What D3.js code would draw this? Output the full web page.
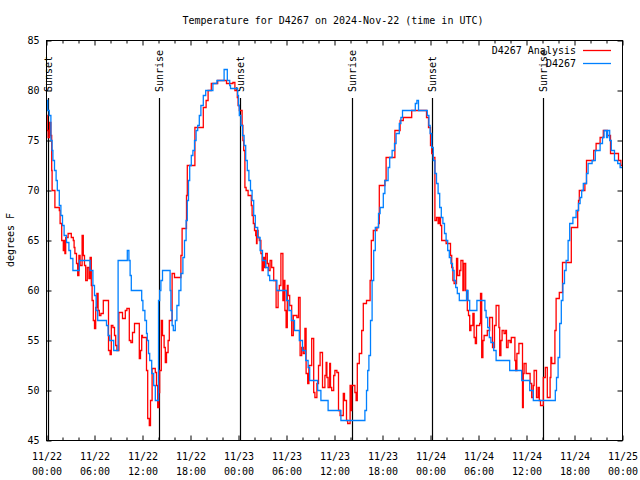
<!DOCTYPE html>
<html><head><meta charset="utf-8">
<script src="https://cdn.jsdelivr.net/npm/d3@7"></script>
<style>
body{margin:0;background:#fff;}
svg{display:block;}
text{font-family:"DejaVu Sans Mono","Liberation Mono",monospace;font-size:10px;fill:#000;}
</style></head><body>
<svg id="chart" width="640" height="480"></svg>
<script>
// ---- data (hours since 2024-11-22 00:00 UTC, temperature in °F) ----
const analysisHours = [0.00,0.08,0.2,0.4,0.55,0.65,0.7,1.05,1.6,1.7,1.9,2.1,2.2,2.3,2.4,2.7,3.1,3.35,3.45,3.55,3.75,3.9,4.05,4.2,4.45,4.6,4.75,4.9,5.1,5.3,5.45,5.6,5.7,5.85,6.0,6.15,6.3,6.45,6.6,6.8,7.1,7.75,7.95,8.1,8.3,8.5,8.65,8.8,9.05,9.5,9.85,10.05,10.35,10.55,10.75,11.0,11.6,11.75,11.9,12.0,12.5,12.65,12.85,13.0,13.2,13.6,13.75,13.9,14.05,14.15,14.35,14.5,14.7,14.85,15.0,15.2,15.35,15.7,16.0,16.8,16.95,17.5,17.6,18.55,19.6,19.95,20.2,20.6,21.4,22.5,23.3,23.55,23.85,23.95,24.1,24.45,24.55,24.65,24.8,24.95,25.2,25.6,25.7,25.85,26.0,26.15,26.25,26.32,26.45,26.6,26.8,26.95,27.1,27.25,27.4,27.6,27.75,27.95,28.15,28.4,28.55,28.7,28.95,29.1,29.3,29.55,29.65,29.8,29.95,30.1,30.2,30.4,30.65,30.85,31.3,31.5,31.7,31.9,32.1,32.3,32.45,32.65,32.8,33.15,33.4,33.55,33.8,34.0,34.2,34.5,34.8,34.95,35.05,35.2,35.4,35.5,35.65,35.9,36.05,36.3,36.5,36.7,37.1,37.25,37.5,37.65,37.95,38.0,38.15,38.55,38.7,38.85,39.1,39.4,39.6,40.0,40.45,40.6,40.85,41.3,41.5,41.6,42.3,42.45,43.55,44.2,44.6,45.65,47.5,47.75,48.0,48.15,48.35,48.55,48.75,48.95,49.1,49.25,49.4,49.95,50.5,50.65,50.8,50.95,51.25,51.4,51.65,51.8,52.05,52.2,52.4,52.6,52.75,52.9,53.05,53.3,53.45,53.6,53.75,54.15,54.25,54.4,54.55,54.7,55.1,55.4,55.75,56.0,56.2,56.55,56.65,56.8,56.95,57.2,57.4,57.5,57.7,57.95,58.1,58.55,58.65,58.8,59.05,59.5,59.6,59.7,59.95,60.45,60.65,60.85,60.95,61.25,61.45,61.6,61.75,62.1,62.35,62.6,62.95,63.05,63.15,63.55,63.7,64.1,64.5,65.6,66.4,66.5,66.6,67.3,67.5,68.4,68.7,69.2,69.6,70.1,70.5,71.5,71.8,72.0];
const analysisTemps = [77.5,76,75.3,76.8,75.5,72,70,68.3,68,66.7,65,64,65,63.7,65.3,65.7,65.3,65,64.3,63.7,62.7,61.5,63.5,62.5,65.5,63.5,62.5,61,62.3,61.2,63.3,60.5,59,57,56.2,58.3,59.7,58,57.5,57.7,59,54,53.6,56.5,56.3,55.5,54.5,54,57.8,57.2,58,58.2,55,54.8,55.8,56.7,53.2,54,55.5,55.3,52,47.2,46.5,49,52.2,51.8,50.5,48.3,49.8,52,57,55.5,54.3,52.8,53.8,55,57,61.7,61.3,63.5,66.2,69.5,72.5,76.3,78.3,79,80,80.7,81,80.7,80.8,80,79.3,78.5,78,76.5,75,74,70.3,70,69.5,68.5,67.5,66.7,66,65.5,64.7,66,65.3,65,63.7,62,63.3,62.3,63.7,62.7,62,63,62.3,61,61,58.3,60,60.5,63.7,59,61,58,56.3,60.5,59.5,58.5,55.5,57.5,57.3,59.3,53.5,54.3,53.7,56.2,51.7,50.7,52.5,55.2,49.8,49.3,50.7,52.5,53.8,50.3,51.5,52.8,51.3,50.3,52.7,50.3,50,51.5,52,51.8,48,47.5,49.7,49,47,46.7,50.5,48,50.5,49.8,49,52.7,53.7,56,58.7,59,61,65,66,66.3,66.7,70.5,71,73.3,76,77,77.3,78,77.3,76.3,74.5,73.7,73.3,67,67.3,66.7,67.3,66.5,65,64.7,63.5,62.3,61,60.7,63.2,61.5,62,63,60,62.7,60,58,57.5,56,56.5,57.7,55.3,54.7,56.5,56.7,59.7,53.3,55,55.5,56,57.3,54.3,56.5,58.5,56.3,53.5,55,56,55.7,56,54.3,55,54.8,55.3,53,52,53.7,54.7,48.3,51.7,52.7,51.7,50.7,49.3,50.5,52,49.3,50.3,49,48.5,51.3,52.3,49.3,51.3,53.3,52.7,56,59.2,59.8,62.8,66.3,68,69,70,70.7,73,74,74.7,75.3,76,75.5,73.7,73,72.5,72.5];

const obsHours = [0.0,0.15,0.35,0.55,0.7,0.8,1.0,1.2,1.35,1.6,1.8,2.0,2.2,2.5,2.8,3.0,3.3,4.1,5.45,5.8,6.0,6.2,6.4,7.5,7.7,7.9,8.4,8.95,10.1,10.3,10.45,10.6,11.9,12.05,12.3,12.5,12.6,12.75,12.9,13.15,13.4,13.6,14.0,14.15,14.3,14.5,15.45,15.55,15.7,15.85,16.1,16.3,16.55,16.8,17.05,17.25,17.45,17.6,17.75,17.9,18.1,18.3,18.5,18.7,18.9,19.1,19.3,19.6,19.9,20.8,21.3,22.2,22.6,22.9,23.0,23.9,24.0,24.1,24.3,24.5,24.7,24.9,25.1,25.3,25.5,25.7,25.9,26.1,26.4,26.7,27.0,27.4,27.7,27.9,28.8,30.0,30.3,30.6,31.0,31.6,32.0,32.4,32.7,32.9,33.9,34.3,35.2,36.8,39.8,40.0,40.15,40.3,40.5,40.7,40.9,41.1,41.5,41.7,42.1,42.3,42.7,42.9,43.2,43.5,43.7,44.1,44.3,44.5,46.1,46.3,46.5,47.6,47.8,47.95,48.15,48.35,48.55,48.75,48.95,49.15,49.35,49.55,49.75,49.95,50.15,50.35,50.55,50.75,50.95,51.15,51.35,51.6,52.5,52.7,52.9,53.8,54.8,54.95,55.15,55.35,55.55,55.9,56.2,57.9,59.4,60.4,60.85,63.6,63.75,63.95,64.15,64.35,64.55,64.75,64.95,65.2,65.4,65.8,66.2,66.5,66.7,66.9,67.1,67.5,67.7,68.2,68.6,69.2,69.5,69.7,70.0,70.15,70.4,70.6,71.0,71.4,71.7,72.0];
const obsTemps = [79,78,77.5,75,74,73,72,71,70,68.5,67.5,66.5,65.5,64.8,64,63.2,62,63,62,60.5,59.5,58,57,56.5,55.5,55,54,63,64,63,61.5,60,59,58,57,55.7,55,53.7,53,51.7,50.5,49,59,60,61,62,60,58,56.5,56,57,58.5,60,61.7,63.3,65,67,69,71,72.5,73.5,74,75,76,76.5,77.5,78.5,79.5,80,80.7,81,82.1,81,80.5,80.2,79.5,78.5,77.5,76.5,75.5,74.5,73,72,71,70,69,67.5,66.3,65.3,64,63,62.3,61.5,61,60,59,58,57,56,55,54,53,52.3,51,50,49,48,47,48,50,52,53.5,57,61,64,66.3,67.7,68.3,69.7,71,72.3,73.3,74,74.7,75.7,76.7,77.3,78,78.7,79,78,77.5,76.5,75.7,74.3,73,71.7,70.7,69.7,68.3,67.3,66.7,65.7,65,64,63.3,62.7,62,61,60.3,59.7,59,60,59,58,59,58,57.3,56.3,55.3,54.8,54,53,52,51,50,49,50,51.3,53.3,56.7,59,60.7,62,63,65,66.7,67.3,68,68.7,69.3,70,70.7,71.7,72.7,73,74,74.7,75.3,76,75.3,76,75,74,73,72.7,72.3,72.3];

const sunHours  = [0.15, 14.1, 24.22, 38.15, 48.22, 62.1];
const sunLabels = ["Sunset","Sunrise","Sunset","Sunrise","Sunset","Sunrise"];

const xTickHours = [0,6,12,18,24,30,36,42,48,54,60,66,72];
const xTickDates = ["11/22","11/22","11/22","11/22","11/23","11/23","11/23","11/23","11/24","11/24","11/24","11/24","11/25"];
const xTickTimes = ["00:00","06:00","12:00","18:00","00:00","06:00","12:00","18:00","00:00","06:00","12:00","18:00","00:00"];
const xMinorHours = d3.range(0, 73, 2).filter(h => h % 6 !== 0);
const yTicks = [45,50,55,60,65,70,75,80,85];

const seriesNames  = ["D4267 Analysis", "D4267"];
const seriesColors = ["#ff0000", "#0080ff"];
const titleText = "Temperature for D4267 on 2024-Nov-22 (time in UTC)";
const yLabelText = "degrees F";

// ---- drawing ----
const svg = d3.select("#chart");
const x = d3.scaleLinear().domain([0, 72]).range([46.5, 622.5]);
const y = d3.scaleLinear().domain([45, 85]).range([440.5, 40.5]);

svg.append("rect").attr("width", 640).attr("height", 480).attr("fill", "#fff");

svg.append("text").attr("x", 333).attr("y", 24).attr("text-anchor", "middle").text(titleText);
svg.append("text").attr("transform", "translate(14,240) rotate(-90)").attr("text-anchor", "middle").text(yLabelText);

function cleanAxis(g){ g.select(".domain").remove(); g.selectAll("line").attr("stroke","#000"); }

const gx = svg.append("g").attr("transform", `translate(0,${y(45)})`)
  .call(d3.axisBottom(x).tickValues(xTickHours).tickSizeInner(-5).tickSizeOuter(0).tickPadding(12)
        .tickFormat((d, i) => xTickDates[i]))
  .call(cleanAxis);
gx.selectAll("text").each(function(d, i){
  const t = d3.select(this);
  t.attr("font-family", null).attr("font-size", null).attr("fill", null);
  t.append("tspan").attr("x", 0).attr("dy", "1.5em").text(xTickTimes[i]);
});
svg.append("g").attr("transform", `translate(0,${y(45)})`)
  .call(d3.axisBottom(x).tickValues(xMinorHours).tickSizeInner(-3).tickSizeOuter(0).tickFormat(""))
  .call(cleanAxis);
svg.append("g").attr("transform", `translate(0,${y(85)})`)
  .call(d3.axisTop(x).tickValues(xTickHours).tickSizeInner(-5).tickSizeOuter(0).tickFormat(""))
  .call(cleanAxis);
svg.append("g").attr("transform", `translate(0,${y(85)})`)
  .call(d3.axisTop(x).tickValues(xMinorHours).tickSizeInner(-3).tickSizeOuter(0).tickFormat(""))
  .call(cleanAxis);
const gy = svg.append("g").attr("transform", `translate(${x(0)},0)`)
  .call(d3.axisLeft(y).tickValues(yTicks).tickSizeInner(-5).tickSizeOuter(0).tickPadding(7).tickFormat(d3.format("d")))
  .call(cleanAxis);
gy.selectAll("text").attr("font-family", null).attr("font-size", null).attr("fill", null);
svg.append("g").attr("transform", `translate(${x(72)},0)`)
  .call(d3.axisRight(y).tickValues(yTicks).tickSizeInner(-5).tickSizeOuter(0).tickFormat(""))
  .call(cleanAxis);

const sun = svg.append("g");
sunHours.forEach((h, i) => {
  const xx = Math.round(x(h)) + 0.5;
  sun.append("line").attr("x1", xx).attr("x2", xx).attr("y1", 98).attr("y2", y(45))
     .attr("stroke", "#000").attr("stroke-width", 1.2);
  sun.append("text").attr("transform", `translate(${xx},92) rotate(-90)`).attr("dy", "0.35em")
     .text(sunLabels[i]);
});

const line = d3.line().x(d => x(d[0])).y(d => y(d[1])).curve(d3.curveStepAfter);
const analysisData = analysisHours.map((h, i) => [h, analysisTemps[i]]);
const obsData = obsHours.map((h, i) => [h, obsTemps[i]]);
const plot = svg.append("g");
plot.append("path").datum(analysisData).attr("fill", "none").attr("stroke", seriesColors[0]).attr("stroke-width", 1.3).attr("d", line);
plot.append("path").datum(obsData).attr("fill", "none").attr("stroke", seriesColors[1]).attr("stroke-width", 1.3).attr("d", line);

seriesNames.forEach((n, i) => {
  const ly = 50 + i * 13;
  svg.append("text").attr("x", 576).attr("y", ly).attr("dy", "0.35em").attr("text-anchor", "end").text(n);
  svg.append("line").attr("x1", 583).attr("x2", 611).attr("y1", ly + 0.5).attr("y2", ly + 0.5)
     .attr("stroke", seriesColors[i]).attr("stroke-width", 1.3);
});

svg.append("rect").attr("x", x(0)).attr("y", y(85)).attr("width", x(72) - x(0)).attr("height", y(45) - y(85))
   .attr("fill", "none").attr("stroke", "#000").attr("stroke-width", 1);
</script>
</body></html>
